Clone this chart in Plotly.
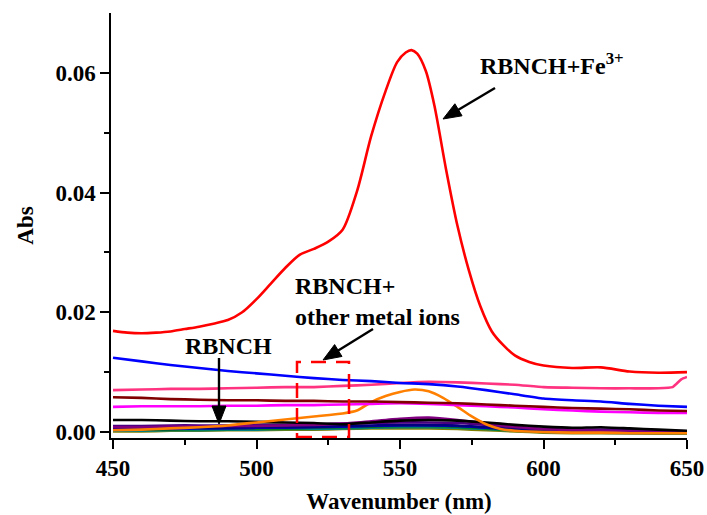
import math
import plotly.graph_objects as go

# ---------------- data ----------------
wl_red = [450, 455, 460, 465, 470, 475, 480, 485, 490, 495, 500, 505, 510, 515, 520, 525, 530,
          535, 540, 545, 549, 552, 554, 556, 559, 562, 566, 570, 574, 578, 582, 586, 590, 595,
          600, 610, 620, 630, 640, 650]
abs_fe = [0.0169, 0.0166, 0.0165, 0.0166, 0.0168, 0.0172, 0.0176, 0.0181, 0.0187, 0.0200, 0.0222,
          0.0248, 0.0274, 0.0296, 0.0306, 0.0318, 0.0338, 0.0402, 0.0495, 0.0570, 0.0618, 0.0634,
          0.0638, 0.0632, 0.0603, 0.0545, 0.0440, 0.0345, 0.0270, 0.0210, 0.0168, 0.0145, 0.0128,
          0.0117, 0.0111, 0.0107, 0.0108, 0.0101, 0.0099, 0.0100]

wl10 = [450, 460, 470, 480, 490, 500, 510, 520, 530, 540, 550, 560, 570, 580, 590, 600, 610, 620,
        630, 640, 650]

abs_blue = [0.0124, 0.0118, 0.0112, 0.0107, 0.0102, 0.0098, 0.0094, 0.0090, 0.0087, 0.0085, 0.0082,
            0.0080, 0.0076, 0.0070, 0.0063, 0.0056, 0.0053, 0.0051, 0.0047, 0.0044, 0.0042]

wl_pink = [450, 460, 470, 480, 490, 500, 510, 520, 530, 540, 550, 560, 570, 580, 590, 600, 610, 620,
           630, 640, 645, 648, 650]
abs_pink = [0.0070, 0.0071, 0.0072, 0.0072, 0.0073, 0.0074, 0.0075, 0.0075, 0.0077, 0.0079, 0.0082,
            0.0084, 0.0083, 0.0081, 0.0079, 0.0075, 0.0074, 0.0073, 0.0073, 0.0073, 0.0075, 0.0088,
            0.0092]

abs_maroon = [0.0058, 0.0057, 0.0055, 0.0054, 0.0053, 0.0053, 0.0052, 0.0052, 0.0051, 0.0051, 0.0050,
              0.0049, 0.0048, 0.0046, 0.0044, 0.0042, 0.0040, 0.0039, 0.0038, 0.0036, 0.0035]

abs_magenta = [0.0042, 0.0043, 0.0043, 0.0043, 0.0044, 0.0044, 0.0045, 0.0045, 0.0046, 0.0047, 0.0048,
               0.0047, 0.0045, 0.0043, 0.0041, 0.0038, 0.0036, 0.0034, 0.0033, 0.0032, 0.0032]

wl_orange = [450, 460, 470, 480, 490, 500, 510, 520, 530, 535, 540, 545, 550, 555, 560, 565, 570,
             575, 580, 585, 590, 600, 610, 620, 630, 640, 650]
abs_orange = [0.0003, 0.0004, 0.0006, 0.0008, 0.0011, 0.0016, 0.0021, 0.0026, 0.0031, 0.0036, 0.0050,
              0.0060, 0.0067, 0.0071, 0.0068, 0.0057, 0.0042, 0.0026, 0.0013, 0.0005, 0.0002, 0.0000,
              -0.0001, -0.0001, -0.0002, -0.0002, -0.0002]

abs_black = [0.0020, 0.0020, 0.0019, 0.0018, 0.0018, 0.0017, 0.0016, 0.0015, 0.0013, 0.0016, 0.0019,
             0.0020, 0.0019, 0.0016, 0.0012, 0.0009, 0.0007, 0.0008, 0.0006, 0.0004, 0.0002]

abs_purple = [0.0008, 0.0008, 0.0009, 0.0009, 0.0010, 0.0010, 0.0011, 0.0012, 0.0014, 0.0018, 0.0022,
              0.0024, 0.0020, 0.0014, 0.0009, 0.0005, 0.0003, 0.0002, 0.0001, 0.0000, 0.0000]

abs_navy = [0.0006, 0.0006, 0.0007, 0.0007, 0.0007, 0.0008, 0.0008, 0.0009, 0.0010, 0.0011, 0.0012,
            0.0012, 0.0011, 0.0008, 0.0005, 0.0003, 0.0002, 0.0001, 0.0000, 0.0000, -0.0001]

abs_teal = [0.0002, 0.0002, 0.0003, 0.0003, 0.0004, 0.0004, 0.0005, 0.0005, 0.0006, 0.0007, 0.0008,
            0.0008, 0.0007, 0.0005, 0.0002, 0.0000, -0.0001, -0.0001, -0.0002, -0.0002, -0.0002]

abs_green = [0.0004, 0.0004, 0.0004, 0.0005, 0.0005, 0.0006, 0.0006, 0.0007, 0.0008, 0.0009, 0.0010,
             0.0010, 0.0009, 0.0006, 0.0003, 0.0001, 0.0000, 0.0000, -0.0001, -0.0001, -0.0001]

abs_indigo = [0.0010, 0.0010, 0.0011, 0.0011, 0.0011, 0.0012, 0.0012, 0.0013, 0.0014, 0.0015, 0.0016,
              0.0016, 0.0015, 0.0012, 0.0008, 0.0005, 0.0004, 0.0004, 0.0003, 0.0002, 0.0001]

abs_olive = [0.0001, 0.0001, 0.0002, 0.0002, 0.0003, 0.0003, 0.0004, 0.0004, 0.0005, 0.0006, 0.0006,
             0.0006, 0.0005, 0.0003, 0.0001, -0.0001, -0.0002, -0.0002, -0.0002, -0.0003, -0.0003]

abs_dblue = [0.0005, 0.0005, 0.0005, 0.0006, 0.0006, 0.0007, 0.0007, 0.0008, 0.0009, 0.0010, 0.0011,
             0.0011, 0.0010, 0.0007, 0.0004, 0.0002, 0.0001, 0.0000, -0.0001, -0.0001, -0.0001]

x_ticks = [450, 500, 550, 600, 650]
x_tick_text = ["<b>450</b>", "<b>500</b>", "<b>550</b>", "<b>600</b>", "<b>650</b>"]
y_ticks = [0.00, 0.02, 0.04, 0.06]
y_tick_text = ["<b>0.00</b>", "<b>0.02</b>", "<b>0.04</b>", "<b>0.06</b>"]

# ---------------- figure ----------------
FONT = "'Liberation Serif', 'Times New Roman', Times, serif"
L, T, W, H = 111, 13, 576, 425
X0, X1 = 449.3, 650
Y0, Y1 = -0.001, 0.07


def dx(px):
    return X0 + (px - L) / W * (X1 - X0)


def dy(py):
    return Y1 - (py - T) / H * (Y1 - Y0)


fig = go.Figure()

series = [
    (wl10, abs_olive, "#808000", 0.5),
    (wl10, abs_teal, "#008080", 0.5),
    (wl10, abs_green, "#008000", 0.5),
    (wl10, abs_dblue, "#0000CC", 0.5),
    (wl10, abs_navy, "#000080", 0.5),
    (wl10, abs_indigo, "#4B0082", 0.5),
    (wl10, abs_purple, "#800080", 0.5),
    (wl10, abs_black, "#000000", 0.5),
    (wl_orange, abs_orange, "#FF8000", 0.6),
    (wl10, abs_magenta, "#FF00FF", 0.5),
    (wl10, abs_maroon, "#800000", 0.5),
    (wl_pink, abs_pink, "#FF3380", 0.4),
    (wl10, abs_blue, "#0000FF", 0.5),
    (wl_red, abs_fe, "#FF0000", 0.8),
]
for xs, ys, c, sm in series:
    fig.add_trace(go.Scatter(x=xs, y=ys, mode="lines",
                             line=dict(color=c, width=2.6, shape="spline", smoothing=sm),
                             showlegend=False, hoverinfo="skip"))

tickfont = dict(family=FONT, size=23, color="black")
fig.update_layout(
    width=707, height=515,
    margin=dict(l=L, r=707 - L - W, t=T, b=515 - T - H, autoexpand=False),
    paper_bgcolor="white", plot_bgcolor="white",
    font=dict(family=FONT, color="black"),
    xaxis=dict(range=[X0, X1], tickvals=x_ticks, ticktext=x_tick_text, ticks="outside",
               ticklen=9, tickwidth=1.5, automargin=False,
               tickcolor="black", showline=True, linecolor="black", linewidth=1.5,
               showgrid=False, zeroline=False, tickfont=tickfont,
               minor=dict(tickvals=[475, 525, 575, 625], ticks="outside", ticklen=5,
                          tickwidth=1.5, tickcolor="black", showgrid=False),
               title=dict(text="<b>Wavenumber (nm)</b>",
                          font=dict(family=FONT, size=23, color="black"), standoff=13)),
    yaxis=dict(range=[Y0, Y1], tickvals=y_ticks, ticktext=y_tick_text, ticks="outside", ticklen=9,
               tickwidth=1.5, tickcolor="black", showline=True, linecolor="black", linewidth=1.5,
               showgrid=False, zeroline=False, tickfont=tickfont, automargin=False,
               minor=dict(tickvals=[0.01, 0.03, 0.05], ticks="outside", ticklen=5,
                          tickwidth=1.5, tickcolor="black", showgrid=False),
               title=dict(text="<b>Abs</b>", font=dict(family=FONT, size=23, color="black"),
                          standoff=15)),
)

afont = dict(family=FONT, size=24, color="black")
fig.add_annotation(x=dx(478), y=dy(64), xref="x", yref="y", xanchor="left", yanchor="middle",
                   text="<b>RBNCH+Fe<sup>3+</sup></b>", showarrow=False, font=afont)
fig.add_annotation(x=dx(293), y=dy(301), xref="x", yref="y", xanchor="left", yanchor="middle",
                   align="left", text="<b>RBNCH+<br>other metal ions</b>", showarrow=False,
                   font=afont)
fig.add_annotation(x=dx(183), y=dy(346), xref="x", yref="y", xanchor="left", yanchor="middle",
                   text="<b>RBNCH</b>", showarrow=False, font=afont)

# arrows drawn as a shaft line plus a filled triangular head (pixel geometry -> data coords)
arrows = [((443, 119), (495, 88)), ((323, 360), (373, 329)), ((219, 424), (219, 358))]
HEAD_LEN, HEAD_HALF = 18, 7
for (hx, hy), (tx, ty) in arrows:
    vx, vy = tx - hx, ty - hy
    n = math.hypot(vx, vy)
    ux, uy = vx / n, vy / n
    bx, by = hx + ux * HEAD_LEN, hy + uy * HEAD_LEN
    px_, py_ = -uy, ux
    fig.add_shape(type="line", xref="x", yref="y", x0=dx(tx), y0=dy(ty),
                  x1=dx(bx - ux * 2), y1=dy(by - uy * 2), line=dict(color="black", width=2.4))
    path = "M {} {} L {} {} L {} {} Z".format(
        dx(hx), dy(hy),
        dx(bx + px_ * HEAD_HALF), dy(by + py_ * HEAD_HALF),
        dx(bx - px_ * HEAD_HALF), dy(by - py_ * HEAD_HALF))
    fig.add_shape(type="path", xref="x", yref="y", path=path, fillcolor="black",
                  line=dict(color="black", width=1))

fig.add_shape(type="rect", xref="x", yref="y", x0=dx(297), x1=dx(349), y0=dy(437), y1=dy(362),
              line=dict(color="#FF0000", width=2.5, dash="15px,10px"))

fig.write_html("out.html")
